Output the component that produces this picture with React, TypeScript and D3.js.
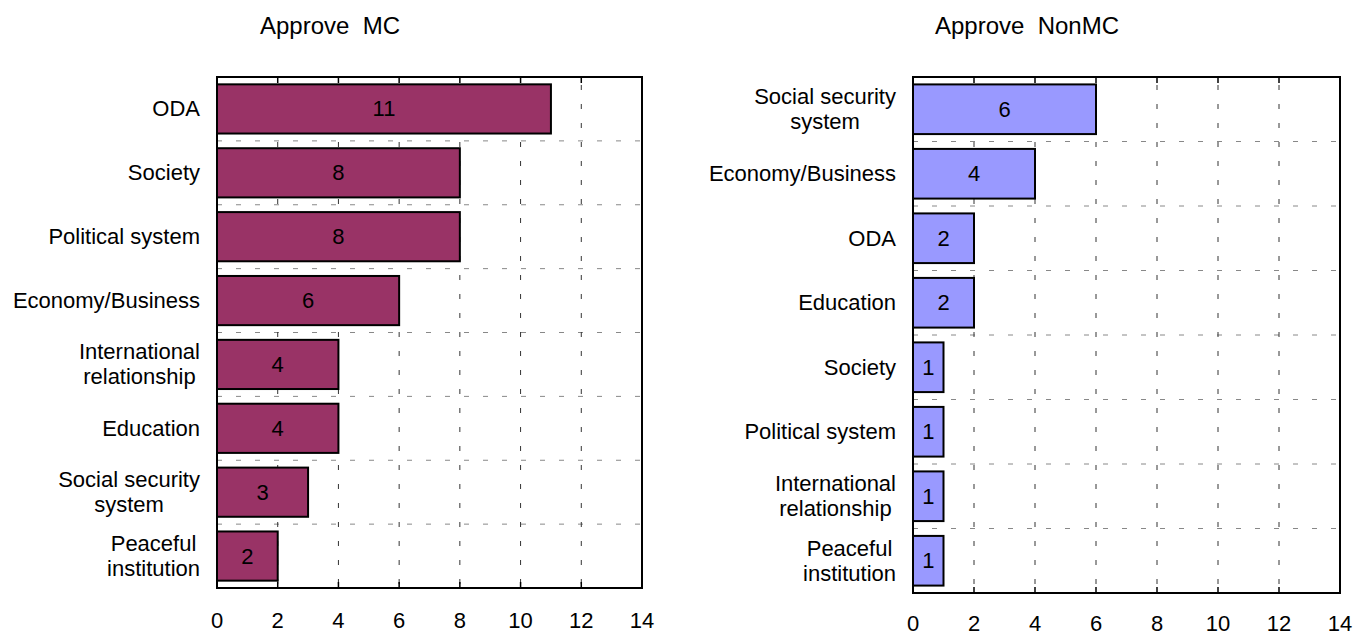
import React, { useEffect, useRef } from "react";
import * as d3 from "d3";

const mcCategories = ["ODA", "Society", "Political system", "Economy/Business", "International\nrelationship", "Education", "Social security\nsystem", "Peaceful\ninstitution"];
const mcValues = [11, 8, 8, 6, 4, 4, 3, 2];
const nonCategories = ["Social security\nsystem", "Economy/Business", "ODA", "Education", "Society", "Political system", "International\nrelationship", "Peaceful\ninstitution"];
const nonValues = [6, 4, 2, 2, 1, 1, 1, 1];
const xTicks = [0, 2, 4, 6, 8, 10, 12, 14];
const titles = ["Approve  MC", "Approve  NonMC"];

const FONT = "Liberation Sans, Arial, sans-serif";

export default function App() {
  const ref = useRef<SVGSVGElement>(null);
  useEffect(() => {
    const svg = d3.select(ref.current);
    svg.selectAll("*").remove();
    const panels = [
      { cats: mcCategories, vals: mcValues, title: titles[0], titleX: 330, left: 217, right: 642, top: 77, bottom: 588, tickY: 620, color: "#993366" },
      { cats: nonCategories, vals: nonValues, title: titles[1], titleX: 1027, left: 913, right: 1340, top: 77, bottom: 593, tickY: 623, color: "#9999FF" },
    ];
    panels.forEach((p) => {
      const g = svg.append("g");
      const x = d3.scaleLinear().domain([0, 14]).range([p.left, p.right]);
      const y = d3.scaleBand<string>().domain(p.cats).range([p.top, p.bottom]).paddingInner(0.23).paddingOuter(0.115);
      const yb = d3.scaleBand<string>().domain(p.cats).range([p.top, p.bottom]);

      g.append("text").attr("x", p.titleX).attr("y", 25).attr("text-anchor", "middle").attr("dominant-baseline", "central")
        .attr("font-family", FONT).attr("font-size", 24).attr("fill", "#000").style("white-space", "pre").text(p.title);

      // horizontal dashed gridlines at band boundaries
      p.cats.slice(1).forEach((c) => {
        const yy = yb(c)!;
        g.append("line").attr("x1", p.left).attr("x2", p.right).attr("y1", yy).attr("y2", yy)
          .attr("stroke", "#888").attr("stroke-width", 1).attr("stroke-dasharray", "5 14");
      });
      // vertical dashed gridlines
      xTicks.slice(1, -1).forEach((t) => {
        g.append("line").attr("x1", x(t)).attr("x2", x(t)).attr("y1", p.top).attr("y2", p.bottom)
          .attr("stroke", "#333").attr("stroke-width", 1).attr("stroke-dasharray", "5 14").attr("stroke-dashoffset", -8);
        g.append("line").attr("x1", x(t)).attr("x2", x(t)).attr("y1", p.top).attr("y2", p.top + 6).attr("stroke", "#000").attr("stroke-width", 1.5);
        g.append("line").attr("x1", x(t)).attr("x2", x(t)).attr("y1", p.bottom).attr("y2", p.bottom - 6).attr("stroke", "#000").attr("stroke-width", 1.5);
      });

      // bars
      p.cats.forEach((c, i) => {
        g.append("rect").attr("x", x(0)).attr("y", y(c)!).attr("width", x(p.vals[i]) - x(0)).attr("height", y.bandwidth())
          .attr("fill", p.color).attr("stroke", "#000").attr("stroke-width", 2);
        g.append("text").attr("x", (x(0) + x(p.vals[i])) / 2).attr("y", y(c)! + y.bandwidth() / 2).attr("text-anchor", "middle")
          .attr("dominant-baseline", "central").attr("font-family", FONT).attr("font-size", 22).attr("fill", "#000").text(String(p.vals[i]));
      });

      // border
      g.append("rect").attr("x", p.left).attr("y", p.top).attr("width", p.right - p.left).attr("height", p.bottom - p.top)
        .attr("fill", "none").attr("stroke", "#000").attr("stroke-width", 2);

      // category labels
      p.cats.forEach((c) => {
        const lines = c.split("\n");
        const cy = yb(c)! + yb.bandwidth() / 2;
        const labelRight = p.left - 17;
        const t = g.append("text").attr("font-family", FONT).attr("font-size", 22).attr("fill", "#000").attr("text-anchor", "middle");
        const lh = 25;
        const spans = lines.map((ln, k) =>
          t.append("tspan").attr("y", cy + (k - (lines.length - 1) / 2) * lh).attr("dominant-baseline", "central").text(ln)
        );
        const widths = spans.map((s) => (s.node() as SVGTextContentElement).getComputedTextLength());
        const maxW = Math.max(...widths);
        spans.forEach((s) => s.attr("x", labelRight - maxW / 2));
      });

      // tick labels
      xTicks.forEach((t) => {
        g.append("text").attr("x", x(t)).attr("y", p.tickY).attr("text-anchor", "middle").attr("dominant-baseline", "central")
          .attr("font-family", FONT).attr("font-size", 22).attr("fill", "#000").text(String(t));
      });
    });
  }, []);
  return (
    <svg ref={ref} width={1363} height={635} style={{ position: "absolute", left: 0, top: 0, background: "#fff" }} />
  );
}
